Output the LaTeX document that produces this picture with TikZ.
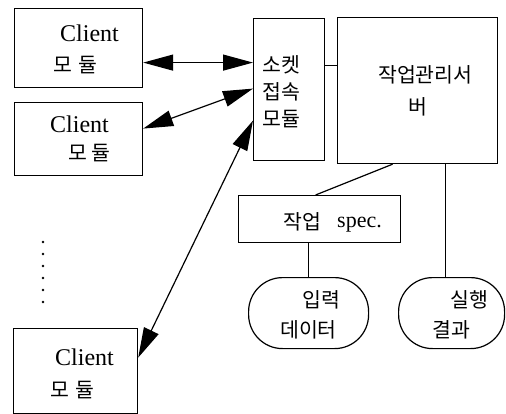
\documentclass[tikz,border=0pt]{standalone}
\usepackage{fontspec}
\setmainfont{Liberation Serif}
\newfontfamily\kr{Noto Sans CJK KR}
\usetikzlibrary{arrows.meta}
\begin{document}
\begin{tikzpicture}[x=1pt,y=-1pt,
 box/.style={draw, line width=1.2pt, inner sep=0pt, anchor=north west},
 stad/.style={draw, line width=1.2pt, inner sep=0pt, anchor=north west, rounded corners=34pt},
 txt/.style={inner sep=0pt, anchor=base west, font=\fontsize{24}{28}\selectfont},
 ko/.style={inner sep=0pt, anchor=west, font=\kr\fontsize{20.5}{24}\selectfont},
 link/.style={line width=1.2pt},
 arr/.style={line width=1.2pt, {Triangle[length=30pt,width=16pt]}-{Triangle[length=30pt,width=16pt]}},
]
\useasboundingbox (0,0) rectangle (506,414);
% boxes
\node[box, minimum width=128pt, minimum height=79pt] (c1) at (14,8) {};
\node[box, minimum width=128pt, minimum height=73pt] (c2) at (14,102) {};
\node[box, minimum width=124pt, minimum height=85pt] (c3) at (13,328) {};
\node[box, minimum width=71pt, minimum height=142pt] (sock) at (253,18) {};
\node[box, minimum width=160pt, minimum height=146pt] (srv) at (337,17) {};
\node[box, minimum width=162pt, minimum height=47pt] (spec) at (238,195) {};
\node[stad, minimum width=120pt, minimum height=71pt] (inp) at (248,277) {};
\node[stad, minimum width=106pt, minimum height=71pt] (res) at (398,277) {};
% texts
\node[txt] (t1a) at (60,42) {Client};
\node[ko] (t1b) at (53,65) {모\hspace{6pt}듈};
\node[txt] (t2a) at (50,133) {Client};
\node[ko] (t2b) at (68,153) {모\hspace{4pt}듈};
\node[txt] (t3a) at (55,365) {Client};
\node[ko] (t3b) at (50,390) {모\hspace{6pt}듈};
\node[ko] (s1) at (262,65) {소켓};
\node[ko] (s2) at (262,92) {접속};
\node[ko] (s3) at (262,119) {모듈};
\node[ko] (v1) at (378,75) {작업관리서};
\node[ko] (v2) at (408,107) {버};
\node[ko] (p1) at (283,222) {작업};
\node[txt, font=\fontsize{22}{26}\selectfont] (p2) at (337,228) {spec.};
\node[ko] (i1) at (302,300) {입력};
\node[ko] (i2) at (280,330) {데이터};
\node[ko] (r1) at (450,300) {실행};
\node[ko] (r2) at (432,330) {결과};
% arrows
\draw[arr] ([yshift=-14.5pt]c1.east) -- ([yshift=27pt]sock.west);
\draw[arr] ([yshift=10.5pt]c2.east) -- ([yshift=1pt]sock.west);
\draw[arr] ([yshift=13.5pt]c3.east) -- ([yshift=-31pt]sock.west);
% links
\coordinate (sl) at ([yshift=24pt]sock.east);
\draw[link] (sl) -- (sl -| srv.west);
\draw[link] ([xshift=-25pt]srv.south) -- ([xshift=-4pt]spec.north);
\coordinate (rs) at ([xshift=28pt]srv.south);
\draw[link] (rs) -- (rs |- res.north);
\draw[link] (inp.north |- spec.south) -- (inp.north);
% dots
\foreach \i in {0,...,5} \fill (43,242+12*\i) circle (1.4pt);
\end{tikzpicture}
\end{document}
